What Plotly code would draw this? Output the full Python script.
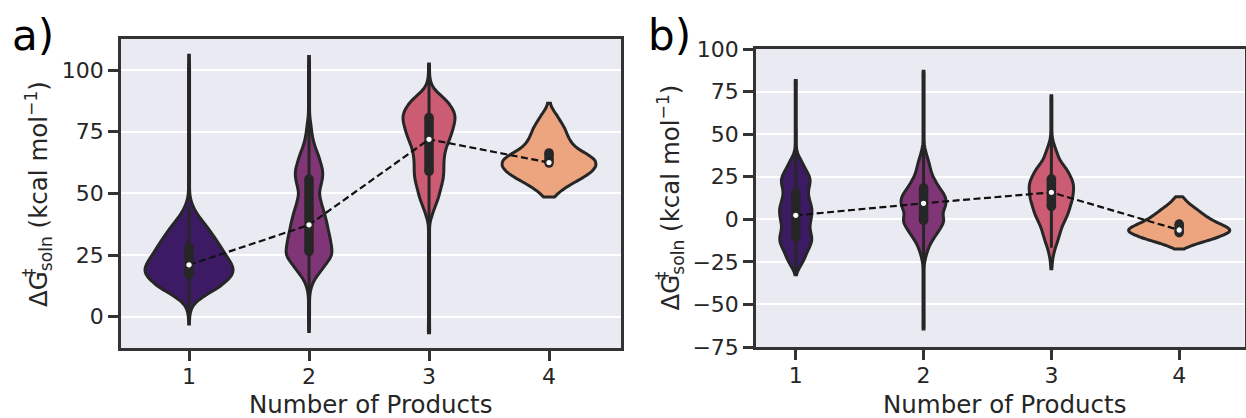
import numpy as np
import plotly.graph_objects as go

# ---------------------------------------------------------------
# Data: binned activation free energies (value -> count) per
# number-of-products group, plus box summary statistics.
# ---------------------------------------------------------------
categories = [1, 2, 3, 4]
tick_labels = ["1", "2", "3", "4"]

# ---- panel a ----
a1_values = [-3, 0, 2.5, 5, 7.5, 10, 12.5, 15, 17.5, 20, 22.5, 25, 27.5, 30, 32.5, 35, 37.5, 40,
             42.5, 45, 47.5, 50, 52.5, 55, 57.5, 60, 62.5, 65, 67.5, 70, 72.5, 75, 77.5, 80,
             82.5, 85, 87.5, 90, 92.5, 95, 97.5, 100, 102.5, 106]
a1_counts = [1, 1, 3, 8, 22, 43, 62, 76, 86, 86, 79, 71, 64, 56, 48, 40, 31, 21,
             13, 7, 3, 1, 1, 1, 1, 1, 1, 1, 1, 1, 1, 1, 1, 1,
             1, 1, 1, 1, 1, 1, 1, 1, 1, 1]

a2_values = [-6, -2.5, 0, 2.5, 5, 7.5, 10, 12.5, 15, 17.5, 20, 22.5, 25, 27.5, 30, 32.5, 35,
             37.5, 40, 42.5, 45, 47.5, 50, 52.5, 55, 57.5, 60, 62.5, 65, 67.5, 70, 72.5, 75,
             77.5, 80, 82.5, 85, 87.5, 90, 92.5, 95, 97.5, 100, 102.5, 105.5]
a2_counts = [1, 1, 1, 1, 1, 1, 2, 5, 10, 19, 28, 37, 45, 44, 42, 40, 37,
             35, 32, 29, 25, 22, 19, 22, 25, 27, 26, 22, 19, 14, 10, 7, 5,
             4, 2, 1, 1, 1, 1, 1, 1, 1, 1, 1, 1]

a3_values = [-6.5, -5, -2.5, 0, 2.5, 5, 7.5, 10, 12.5, 15, 17.5, 20, 22.5, 25, 27.5, 30, 32.5,
             35, 37.5, 40, 42.5, 45, 47.5, 50, 52.5, 55, 57.5, 60, 62.5, 65, 67.5, 70, 72.5,
             75, 77.5, 80, 82.5, 85, 87.5, 90, 92.5, 95, 97.5, 100, 102.5]
a3_counts = [1, 1, 1, 1, 1, 1, 1, 1, 1, 1, 1, 1, 1, 1, 1, 1, 1,
             1, 1, 4, 8, 12, 17, 20, 23, 26, 28, 28, 28, 29, 31, 35, 40,
             44, 47, 50, 49, 43, 34, 21, 8, 3, 1, 1, 1]

a4_values = [48.5, 51, 53.5, 56, 58.5, 61, 63.5, 66, 68.5, 71, 73.5, 76, 78.5, 81, 83.5, 86.5]
a4_counts = [10, 22, 40, 62, 80, 90, 89, 72, 51, 41, 35, 31, 24, 17, 9, 3]

a_medians = [21.0, 37.2, 71.9, 62.5]
a_q1 = [17.0, 26.5, 58.9, 62.3]
a_q3 = [28.1, 55.8, 80.8, 66.4]
a_whisk_lo = [0.4, -5.5, 26.0, 62.3]
a_whisk_hi = [44.8, 99.8, 102.0, 66.4]

# ---- panel b ----
b1_values = [-32.5, -30, -27.5, -25, -22.5, -20, -17.5, -15, -12.5, -10, -7.5, -5, -2.5, 0,
             2.5, 5, 7.5, 10, 12.5, 15, 17.5, 20, 22.5, 25, 27.5, 30, 32.5, 35, 37.5, 40,
             42.5, 45, 47.5, 50, 52.5, 55, 57.5, 60, 62.5, 65, 67.5, 70, 72.5, 75, 77.5, 80, 81.5]
b1_counts = [1, 4, 9, 14, 18, 21, 25, 29, 32, 31, 29, 27, 28, 30,
             31, 32, 31, 28, 26, 24, 25, 27, 29, 27, 23, 18, 14, 10, 5, 2,
             1, 1, 1, 1, 1, 1, 1, 1, 1, 1, 1, 1, 1, 1, 1, 1, 1]

b2_values = [-64.5, -62.5, -60, -57.5, -55, -52.5, -50, -47.5, -45, -42.5, -40, -37.5, -35,
             -32.5, -30, -27.5, -25, -22.5, -20, -17.5, -15, -12.5, -10, -7.5, -5, -2.5, 0,
             2.5, 5, 7.5, 10, 12.5, 15, 17.5, 20, 22.5, 25, 27.5, 30, 32.5, 35, 37.5, 40,
             42.5, 45, 47.5, 50, 52.5, 55, 57.5, 60, 62.5, 65, 67.5, 70, 72.5, 75, 77.5, 80,
             82.5, 85, 87]
b2_counts = [1, 1, 1, 1, 1, 1, 1, 1, 1, 1, 1, 1, 1,
             1, 1, 1, 2, 4, 6, 9, 12, 17, 22, 28, 33, 38, 40,
             36, 38, 42, 44, 43, 39, 33, 27, 23, 18, 15, 13, 11, 9, 6, 4,
             2, 1, 1, 1, 1, 1, 1, 1, 1, 1, 1, 1, 1, 1, 1, 1,
             1, 1, 1]

b3_values = [-29, -27.5, -25, -22.5, -20, -17.5, -15, -12.5, -10, -7.5, -5, -2.5, 0, 2.5, 5,
             7.5, 10, 12.5, 15, 17.5, 20, 22.5, 25, 27.5, 30, 32.5, 35, 37.5, 40, 42.5, 45,
             47.5, 50, 52.5, 55, 57.5, 60, 62.5, 65, 67.5, 70, 72.5]
b3_counts = [1, 1, 2, 3, 5, 7, 10, 13, 15, 18, 20, 24, 28, 32, 35,
             37, 40, 42, 43, 44, 44, 42, 38, 34, 29, 22, 16, 13, 10, 7, 4,
             2, 1, 1, 1, 1, 1, 1, 1, 1, 1, 1]

b4_values = [-17.5, -16.25, -15, -13.75, -12.5, -11.25, -10, -8.75, -7.5, -6.25, -5, -3.75,
             -2.5, -1.25, 0, 1.25, 2.5, 3.75, 5, 6.25, 7.5, 8.75, 10, 11.25, 12.5, 13.25]
b4_counts = [8, 17, 28, 39, 55, 67, 78, 88, 96, 99, 92, 85,
             76, 67, 60, 53, 48, 42, 37, 32, 26, 21, 16, 12, 8, 5]

b_medians = [2.3, 9.4, 15.8, -6.3]
b_q1 = [-10.4, -0.6, 7.6, -7.9]
b_q3 = [15.4, 18.4, 23.8, -2.8]
b_whisk_lo = [-32.0, -29.1, -16.7, -7.9]
b_whisk_hi = [54.1, 46.9, 48.1, -2.8]

# ---------------------------------------------------------------
# Styling
# ---------------------------------------------------------------
W, H = 1246, 418
PALETTE = ["#3c1b64", "#803577", "#cb5c73", "#eca57f"]   # desaturated magma
GRAY = "#262626"
FRAME = "#333333"
BG = "#eaeaf2"
FONT = "DejaVu Sans, Liberation Sans, sans-serif"

panels = {
    "a": dict(values=[a1_values, a2_values, a3_values, a4_values],
              counts=[a1_counts, a2_counts, a3_counts, a4_counts],
              med=a_medians, q1=a_q1, q3=a_q3, lo=a_whisk_lo, hi=a_whisk_hi,
              widths=[0.733, 0.381, 0.433, 0.781], bw=[1.8, 1.8, 1.8, 1.5],
              xaxis="x", yaxis="y"),
    "b": dict(values=[b1_values, b2_values, b3_values, b4_values],
              counts=[b1_counts, b2_counts, b3_counts, b4_counts],
              med=b_medians, q1=b_q1, q3=b_q3, lo=b_whisk_lo, hi=b_whisk_hi,
              widths=[0.253, 0.352, 0.347, 0.791], bw=[2.0, 2.0, 2.0, 1.2],
              xaxis="x2", yaxis="y2"),
}

fig = go.Figure()

# violins first (drawn in the violin layer), overlays afterwards
for key, p in panels.items():
    for i, cat in enumerate(categories):
        samples = np.repeat(np.asarray(p["values"][i], dtype=float),
                            np.asarray(p["counts"][i], dtype=int))
        fig.add_trace(go.Violin(
            x=np.full(samples.size, cat), y=samples,
            xaxis=p["xaxis"], yaxis=p["yaxis"],
            width=p["widths"][i], bandwidth=p["bw"][i],
            spanmode="hard", scalemode="width",
            side="both", points=False,
            box_visible=False, meanline_visible=False,
            fillcolor=PALETTE[i], opacity=1,
            line=dict(color=GRAY, width=3),
            hoverinfo="skip", showlegend=False,
        ))

for key, p in panels.items():
    for i, cat in enumerate(categories):
        # whisker
        fig.add_trace(go.Scatter(
            x=[cat, cat], y=[p["lo"][i], p["hi"][i]], mode="lines",
            line=dict(color=GRAY, width=3),
            xaxis=p["xaxis"], yaxis=p["yaxis"], hoverinfo="skip", showlegend=False))
        # interquartile bar with rounded ends
        fig.add_trace(go.Scatter(
            x=[cat, cat], y=[p["q1"][i], p["q3"][i]], mode="lines+markers",
            line=dict(color=GRAY, width=9.5),
            marker=dict(color=GRAY, size=9.5, line=dict(width=0)),
            xaxis=p["xaxis"], yaxis=p["yaxis"], hoverinfo="skip", showlegend=False))
    # dashed trend through the medians
    fig.add_trace(go.Scatter(
        x=categories, y=p["med"], mode="lines",
        line=dict(color="#111111", width=2.2, dash="7px,3.5px"),
        xaxis=p["xaxis"], yaxis=p["yaxis"], hoverinfo="skip", showlegend=False))
    # median markers
    fig.add_trace(go.Scatter(
        x=categories, y=p["med"], mode="markers",
        marker=dict(color="white", size=6.5, line=dict(color=GRAY, width=1.2)),
        xaxis=p["xaxis"], yaxis=p["yaxis"], hoverinfo="skip", showlegend=False))


def px_x(v):
    return v / W


def px_y(v):
    return 1 - v / H


axis_common = dict(
    showline=True, mirror=True, linecolor=FRAME, linewidth=2.5,
    ticks="outside", ticklen=10, tickwidth=2.5, tickcolor=FRAME,
    tickfont=dict(family=FONT, size=22, color=GRAY),
    zeroline=False, automargin=False,
)

fig.update_layout(
    template="none",
    width=W, height=H, autosize=False,
    margin=dict(l=0, r=0, t=0, b=0, pad=0, autoexpand=False),
    paper_bgcolor="white", plot_bgcolor=BG,
    violinmode="overlay",
    xaxis=dict(domain=[px_x(121), px_x(621)], range=[0.433, 4.6],
               tickvals=categories, ticktext=tick_labels, showgrid=False,
               ticklabelstandoff=-3, anchor="y", **axis_common),
    yaxis=dict(domain=[px_y(348), px_y(39)], range=[-12.7, 112.6],
               tickvals=[0, 25, 50, 75, 100], showgrid=True,
               gridcolor="white", gridwidth=2, anchor="x", **axis_common),
    xaxis2=dict(domain=[px_x(756), px_x(1244.5)], range=[0.689, 4.511],
                tickvals=categories, ticktext=tick_labels, showgrid=False,
                ticklabelstandoff=-3, anchor="y2", **axis_common),
    yaxis2=dict(domain=[px_y(347), px_y(49)], range=[-75, 100],
                tickvals=[-75, -50, -25, 0, 25, 50, 75, 100],
                ticktext=["\u221275", "\u221250", "\u221225", "0", "25", "50", "75", "100"],
                showgrid=True, gridcolor="white", gridwidth=2, anchor="x2", **axis_common),
)

ytitle = "\u0394G<sub>soln</sub> (kcal mol<sup>\u22121</sup>)"
annotations = []
for label, lx in (("a)", 10), ("b)", 646)):
    annotations.append(dict(
        text=label, x=px_x(lx), y=px_y(35), xref="paper", yref="paper",
        xanchor="left", yanchor="middle", showarrow=False,
        font=dict(family="DejaVu Sans", size=42, color="black")))
for cx, cy, dx, dy in ((38, 194, 29, 273), (670, 197.5, 662, 276)):
    annotations.append(dict(
        text=ytitle, x=px_x(cx), y=px_y(cy), xref="paper", yref="paper",
        xanchor="center", yanchor="middle", textangle=-90, showarrow=False,
        font=dict(family=FONT, size=24.5, color=GRAY)))
    annotations.append(dict(
        text="\u2021", x=px_x(dx), y=px_y(dy), xref="paper", yref="paper",
        xanchor="center", yanchor="middle", textangle=-90, showarrow=False,
        font=dict(family=FONT, size=17, color=GRAY)))
for cx in (370.5, 1004):
    annotations.append(dict(
        text="Number of Products", x=px_x(cx), y=px_y(404.5), xref="paper", yref="paper",
        xanchor="center", yanchor="middle", showarrow=False,
        font=dict(family=FONT, size=24.5, color=GRAY)))
fig.update_layout(annotations=annotations)

fig.write_html("out.html", config={"displayModeBar": False})
